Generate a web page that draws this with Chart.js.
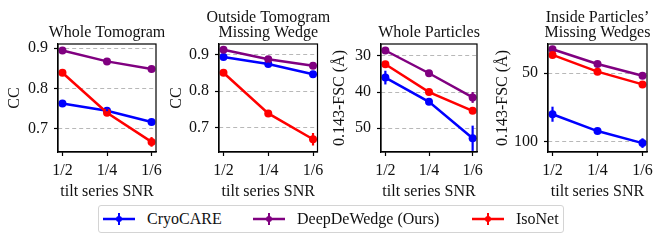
<!DOCTYPE html>
<html>
<head>
<meta charset="utf-8">
<script src="https://cdn.jsdelivr.net/npm/chart.js@4.4.1/dist/chart.umd.min.js"></script>
<style>
html, body { margin: 0; padding: 0; background: #fff; }
body { width: 663px; height: 243px; position: relative; overflow: hidden; font-family: "Liberation Serif", serif; }
canvas { position: absolute; top: 0; }
#legend { position: absolute; left: 98px; top: 205px; width: 466px; height: 28px; border: 1px solid #d4d4d4; border-radius: 3px; box-sizing: border-box; }
.item { position: absolute; top: 0; height: 100%; display: flex; align-items: center; font-size: 16px; color: #111; white-space: nowrap; }
.item svg { margin-right: 12px; }
</style>
</head>
<body>
<canvas id="c1" width="168" height="200" style="left:0px"></canvas>
<canvas id="c2" width="168" height="200" style="left:162px"></canvas>
<canvas id="c3" width="164" height="200" style="left:325px"></canvas>
<canvas id="c4" width="175" height="200" style="left:488px"></canvas>
<div id="legend"></div>
<script>
// x categories
const snrLabels = ['1/2', '1/4', '1/6'];
const methods = ['CryoCARE', 'DeepDeWedge (Ours)', 'IsoNet'];
const colors = ['#0000ff', '#800080', '#ff0000'];

// Whole Tomogram (CC)
const wholeTomoCryo = [0.763, 0.745, 0.717];
const wholeTomoDdw = [0.894, 0.867, 0.848];
const wholeTomoIso = [0.839, 0.740, 0.668];
const wholeTomoCryoErr = [0.004, 0.004, 0.005];
const wholeTomoDdwErr = [0.003, 0.003, 0.003];
const wholeTomoIsoErr = [0.003, 0.004, 0.012];

// Outside Tomogram Missing Wedge (CC)
const outsideMwCryo = [0.894, 0.875, 0.847];
const outsideMwDdw = [0.914, 0.888, 0.870];
const outsideMwIso = [0.851, 0.739, 0.668];
const outsideMwCryoErr = [0.004, 0.004, 0.004];
const outsideMwDdwErr = [0.003, 0.003, 0.003];
const outsideMwIsoErr = [0.004, 0.004, 0.017];

// Whole Particles (0.143-FSC, Angstrom)
const wholePartCryo = [36.0, 42.7, 52.8];
const wholePartDdw = [28.5, 34.8, 41.5];
const wholePartIso = [32.3, 40.0, 45.2];
const wholePartCryoErr = [1.9, 0.8, 3.5];
const wholePartDdwErr = [0.5, 0.8, 1.5];
const wholePartIsoErr = [0.4, 0.4, 0.5];

// Inside Particles' Missing Wedges (0.143-FSC, Angstrom)
const insideMwCryo = [80.1, 92.4, 101.2];
const insideMwDdw = [32.6, 43.4, 52.0];
const insideMwIso = [36.8, 49.0, 58.3];
const insideMwCryoErr = [5.5, 1.0, 3.5];
const insideMwDdwErr = [0.8, 0.6, 0.8];
const insideMwIsoErr = [0.6, 0.6, 0.8];

// y tick labels
const ccTicks = [0.7, 0.8, 0.9];
const fscTicksWhole = [30, 40, 50];
const fscTicksInside = [50, 100];

const serif = '"Liberation Serif", "Times New Roman", serif';

// draws vertical error bars from the dataset's errors array
const errorBars = {
    id: 'errorBars',
    afterDatasetsDraw(chart) {
        const ctx = chart.ctx;
        const xs = chart.scales.x, ys = chart.scales.y;
        ctx.save();
        ctx.beginPath();
        ctx.rect(chart.chartArea.left, chart.chartArea.top, chart.chartArea.width, chart.chartArea.height);
        ctx.clip();
        chart.data.datasets.forEach(ds => {
            ctx.strokeStyle = ds.borderColor;
            ctx.lineWidth = 2.2;
            ds.data.forEach((p, i) => {
                const e = ds.errors[i];
                const px = xs.getPixelForValue(p.x);
                ctx.beginPath();
                ctx.moveTo(px, ys.getPixelForValue(p.y - e));
                ctx.lineTo(px, ys.getPixelForValue(p.y + e));
                ctx.stroke();
            });
        });
        ctx.restore();
    }
};

// full box around the plot + panel title centred over the plot area
const frame = {
    id: 'frame',
    afterDraw(chart, args, opts) {
        const a = chart.chartArea, ctx = chart.ctx;
        ctx.save();
        ctx.strokeStyle = '#000';
        ctx.lineWidth = 1.2;
        ctx.strokeRect(a.left, a.top, a.right - a.left, a.bottom - a.top);
        ctx.fillStyle = '#111';
        ctx.font = '16px ' + serif;
        ctx.textAlign = 'center';
        ctx.textBaseline = 'alphabetic';
        const lines = opts.lines || [];
        const cx = (a.left + a.right) / 2;
        lines.forEach((t, i) => {
            const base = a.top - 7.5 - (lines.length - 1 - i) * 15;
            ctx.fillText(t, cx, base);
        });
        ctx.restore();
    }
};

function makePanel(id, p) {
    const canvas = document.getElementById(id);
    const series = [p.cryo, p.ddw, p.iso];
    const errs = [p.cryoErr, p.ddwErr, p.isoErr];
    const datasets = series.map((vals, k) => ({
        label: methods[k],
        data: vals.map((v, i) => ({ x: i, y: v })),
        errors: errs[k],
        borderColor: colors[k],
        backgroundColor: colors[k],
        borderWidth: 2.5,
        pointRadius: 4,
        pointHoverRadius: 4,
        pointBorderWidth: 0,
        tension: 0,
        order: 3 - k
    }));
    new Chart(canvas, {
        type: 'line',
        data: { datasets },
        options: {
            responsive: false,
            animation: false,
            events: [],
            layout: { padding: { left: 0, top: 44, bottom: 0, right: canvas.width - p.plotRight } },
            plugins: {
                legend: { display: false },
                tooltip: { enabled: false },
                frame: { lines: p.title }
            },
            scales: {
                x: {
                    type: 'linear',
                    min: -0.1,
                    max: 2.1,
                    afterBuildTicks: s => { s.ticks = snrLabels.map((_, i) => ({ value: i })); },
                    afterFit: s => { s.height = 48; },
                    ticks: {
                        callback: v => snrLabels[v],
                        color: '#111',
                        padding: 5,
                        maxRotation: 0,
                        font: { family: serif, size: 16 }
                    },
                    grid: { drawOnChartArea: false, tickLength: 4, tickColor: '#000', tickWidth: 1.2 },
                    border: { color: '#000', width: 1.2 },
                    title: {
                        display: true,
                        text: 'tilt series SNR',
                        color: '#111',
                        font: { family: serif, size: 16, lineHeight: 1 },
                        padding: { top: 0, bottom: 0 }
                    }
                },
                y: {
                    type: 'linear',
                    min: p.yMin,
                    max: p.yMax,
                    reverse: p.reverse,
                    afterBuildTicks: s => { s.ticks = p.ticks.map(v => ({ value: v })); },
                    afterFit: s => { s.width = p.plotLeft; },
                    ticks: {
                        callback: v => p.fmt(v),
                        color: '#111',
                        padding: 6,
                        font: { family: serif, size: 16 }
                    },
                    grid: { color: '#b8b8b8', lineWidth: 1, tickLength: 4, tickColor: '#000', tickWidth: 1.2 },
                    border: { color: '#000', width: 1.2, dash: [4, 3] },
                    title: {
                        display: true,
                        text: p.yTitle,
                        color: '#111',
                        font: { family: serif, size: 16, lineHeight: 1 },
                        padding: { top: 7, bottom: 0 }
                    }
                }
            }
        },
        plugins: [errorBars, frame]
    });
}

// plotLeft / plotRight are relative to each canvas
makePanel('c1', {
    title: ['Whole Tomogram'], yTitle: 'CC',
    cryo: wholeTomoCryo, ddw: wholeTomoDdw, iso: wholeTomoIso,
    cryoErr: wholeTomoCryoErr, ddwErr: wholeTomoDdwErr, isoErr: wholeTomoIsoErr,
    yMin: 0.643, yMax: 0.910, reverse: false, ticks: ccTicks, fmt: v => v.toFixed(1),
    plotLeft: 58, plotRight: 156
});
makePanel('c2', {
    title: ['Outside Tomogram', 'Missing Wedge'], yTitle: 'CC',
    cryo: outsideMwCryo, ddw: outsideMwDdw, iso: outsideMwIso,
    cryoErr: outsideMwCryoErr, ddwErr: outsideMwDdwErr, isoErr: outsideMwIsoErr,
    yMin: 0.633, yMax: 0.930, reverse: false, ticks: ccTicks, fmt: v => v.toFixed(1),
    plotLeft: 57, plotRight: 155.5
});
makePanel('c3', {
    title: ['Whole Particles'], yTitle: '0.143-FSC (Å)',
    cryo: wholePartCryo, ddw: wholePartDdw, iso: wholePartIso,
    cryoErr: wholePartCryoErr, ddwErr: wholePartDdwErr, isoErr: wholePartIsoErr,
    yMin: 26.7, yMax: 56.6, reverse: true, ticks: fscTicksWhole, fmt: v => String(v),
    plotLeft: 56, plotRight: 152
});
makePanel('c4', {
    title: ['Inside Particles\u2019', 'Missing Wedges'], yTitle: '0.143-FSC (Å)',
    cryo: insideMwCryo, ddw: insideMwDdw, iso: insideMwIso,
    cryoErr: insideMwCryoErr, ddwErr: insideMwDdwErr, isoErr: insideMwIsoErr,
    yMin: 28.8, yMax: 107.7, reverse: true, ticks: fscTicksInside, fmt: v => String(v),
    plotLeft: 60, plotRight: 159
});

// shared legend below the panels
const legend = document.getElementById('legend');
const itemLeft = [4, 154, 373];
methods.forEach((name, k) => {
    const c = colors[k];
    const el = document.createElement('div');
    el.className = 'item';
    el.style.left = itemLeft[k] + 'px';
    el.innerHTML =
        '<svg width="32" height="14" viewBox="0 0 32 14">' +
        '<line x1="0" y1="7" x2="32" y2="7" stroke="' + c + '" stroke-width="2.5"/>' +
        '<line x1="16" y1="1" x2="16" y2="13" stroke="' + c + '" stroke-width="2"/>' +
        '<circle cx="16" cy="7" r="3" fill="' + c + '"/></svg>' +
        '<span>' + name + '</span>';
    legend.appendChild(el);
});
</script>
</body>
</html>
